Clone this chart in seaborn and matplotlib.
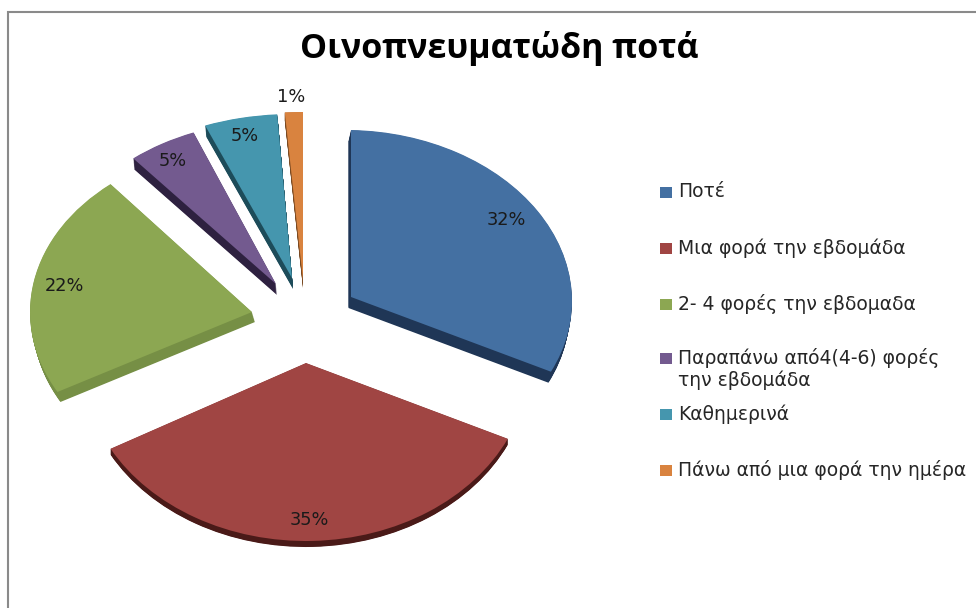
import matplotlib
matplotlib.use("Agg")
import matplotlib.pyplot as plt
import numpy as np
import seaborn as sns
from matplotlib.patches import Rectangle
from matplotlib.transforms import Affine2D

categories = ["Ποτέ", "Μια φορά την εβδομάδα", "2- 4 φορές την εβδομαδα",
              "Παραπάνω από4(4-6) φορές\nτην εβδομάδα", "Καθημερινά",
              "Πάνω από μια φορά την ημέρα"]
shares = [32, 35, 22, 5, 5, 1]
title = "Οινοπνευματώδη ποτά"

face_colors = ["#4470A2", "#A04543", "#8CA752", "#735A8F", "#4596AE", "#D9833F"]
side_colors = ["#1F3656", "#4A1A18", "#768F45", "#2E2140", "#1D4C5A", "#7A4A22"]

# Canvas layout in pixels: each slice has its own apex, radii and extrusion
apex_x = [351, 306, 252, 276, 292, 303]
apex_y = [297, 363, 312, 284, 278, 280]
radius_x = [221, 223, 222, 224, 236, 290]
radius_y = [167, 178, 166, 163, 164, 168]
shear_y = [4, 0, 0, 0, 0, 0]
side_dx = [-2.5, 0, 3, 1, 1, 0]
side_dy = [11, 6, 10, 11, 11, 8]
label_x = [506, 309, 64, 173, 245, 291]
label_y = [220, 520, 286, 161, 136, 97]
legend_y = [192, 248, 304, 358, 414, 470]

sns.set_theme(style="white")
plt.rcParams["font.family"] = ["DejaVu Sans"]

fig = plt.figure(figsize=(9.76, 6.08), dpi=100, facecolor="white")
ax = fig.add_axes([0, 0, 1, 1])
flat = {"linewidth": 0, "edgecolor": "none"}


def slice_transform(i, lift=0.0):
    matrix = Affine2D.from_values(radius_x[i], shear_y[i], 0, -radius_y[i],
                                  apex_x[i] + side_dx[i] * lift,
                                  apex_y[i] + side_dy[i] * lift)
    return matrix + ax.transData


# Extruded sides: stacked dark copies of the pie, deepest first
for lift in np.linspace(1, 0.05, 14):
    wedges, _ = ax.pie(shares, colors=sns.color_palette(side_colors),
                       startangle=90, counterclock=False, wedgeprops=flat)
    for i, wedge in enumerate(wedges):
        wedge.set_transform(slice_transform(i, lift))
        wedge.set_zorder(2)

# Top faces of the slices
wedges, _ = ax.pie(shares, colors=sns.color_palette(face_colors),
                   startangle=90, counterclock=False, wedgeprops=flat)
for i, wedge in enumerate(wedges):
    wedge.set_transform(slice_transform(i))
    wedge.set_zorder(3)

ax.set_aspect("auto")
ax.set_xlim(0, 976)
ax.set_ylim(608, 0)
ax.axis("off")

for x, y, share in zip(label_x, label_y, shares):
    ax.text(x, y, f"{share}%", ha="center", va="center", fontsize=12.8,
            color="#1a1a1a", zorder=5)

ax.text(499, 48, title, ha="center", va="center", fontsize=24.5,
        family="Open Sans", fontweight="bold", color="black", zorder=5)

# Key on the right, with a wrapped entry that does not push the rows below it
for y, name, colour in zip(legend_y, categories, face_colors):
    ax.add_patch(Rectangle((660, y - 5), 12, 11, facecolor=colour,
                           edgecolor="none", zorder=5))
    ax.text(678, y - 10, name, ha="left", va="top", fontsize=13.5,
            color="#262626", linespacing=1.18, zorder=5)

# Chart frame, visible along the top and left
ax.plot([8, 8, 976], [608, 12, 12], color="#8a8a8a", lw=1.5, zorder=1,
        solid_joinstyle="miter")

fig.savefig("out.png", dpi=100, facecolor="white")
